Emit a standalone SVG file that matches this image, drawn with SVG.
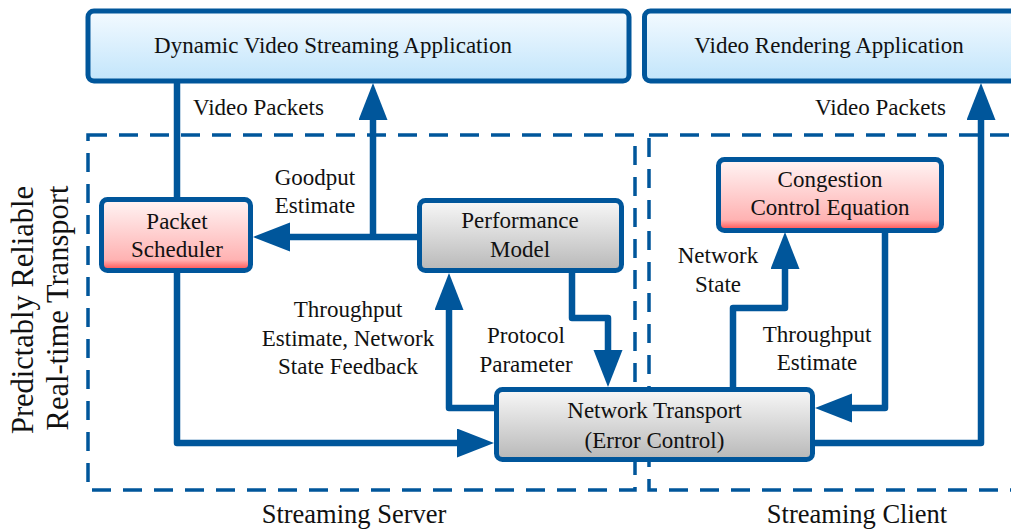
<svg xmlns="http://www.w3.org/2000/svg" width="1011" height="530" viewBox="0 0 1011 530">
  <style>
    .box { stroke: #00569b; stroke-width: 5; }
    .app { fill: url(#gBlue); }
    .hot { fill: url(#gRed); }
    .core { fill: url(#gGray); }
    .region { fill: none; stroke: #00569b; stroke-width: 3.5; stroke-dasharray: 19 12; }
    .wire { fill: none; stroke: #00569b; stroke-width: 6.5; stroke-linejoin: round; }
    .arrow { marker-end: url(#head); }
    text { font-family: "Liberation Serif", "Times New Roman", serif; font-size: 23px; fill: #111; }
    .mid { text-anchor: middle; }
    .big { font-size: 26.5px; }
    .side { font-size: 30.5px; }
  </style>
  <defs>
    <linearGradient id="gBlue" x1="0" y1="0" x2="0" y2="1">
      <stop offset="0" stop-color="#f3faff"/>
      <stop offset="1" stop-color="#c2e5fb"/>
    </linearGradient>
    <linearGradient id="gRed" x1="0" y1="0" x2="0" y2="1">
      <stop offset="0" stop-color="#fff5f5"/>
      <stop offset="0.85" stop-color="#ffb2b2"/>
      <stop offset="1" stop-color="#ff4848"/>
    </linearGradient>
    <linearGradient id="gGray" x1="0" y1="0" x2="0" y2="1">
      <stop offset="0" stop-color="#f8f8f8"/>
      <stop offset="1" stop-color="#b8b8b8"/>
    </linearGradient>
    <marker id="head" markerUnits="userSpaceOnUse" markerWidth="38" markerHeight="30" refX="10" refY="14.5" orient="auto">
      <path d="M0,0 L37,14.5 L0,29 Z" fill="#00569b"/>
    </marker>
  </defs>

  <!-- server / client regions -->
  <g id="regions">
    <rect class="region" x="88" y="135" width="547" height="355"/>
    <rect class="region" x="649" y="135" width="400" height="355"/>
    <text class="big mid" x="354" y="523">Streaming Server</text>
    <text class="big mid" x="857" y="523">Streaming Client</text>
    <text class="side mid" x="33" y="310" transform="rotate(-90 33 310)">Predictably Reliable</text>
    <text class="side mid" x="68" y="308" transform="rotate(-90 68 308)">Real-time Transport</text>
  </g>

  <!-- connectors -->
  <g id="connectors">
    <path class="wire" d="M177,81 V200"/>
    <path class="wire arrow" d="M420,237 H280"/>
    <path class="wire arrow" d="M373,237 V110"/>
    <path class="wire arrow" d="M177,270 V443 H467"/>
    <path class="wire arrow" d="M497,408 H449 V300"/>
    <path class="wire arrow" d="M572,270 V318 H608 V360"/>
    <path class="wire arrow" d="M733,390 V308 H785 V259"/>
    <path class="wire arrow" d="M885,230 V408 H842"/>
    <path class="wire arrow" d="M812,443 H981 V110"/>
    <text x="193" y="115">Video Packets</text>
    <text x="815" y="115">Video Packets</text>
    <text class="mid" x="315" y="185">Goodput</text>
    <text class="mid" x="315" y="213">Estimate</text>
    <text class="mid" x="348" y="317">Throughput</text>
    <text class="mid" x="348" y="346">Estimate, Network</text>
    <text class="mid" x="348" y="374">State Feedback</text>
    <text class="mid" x="526" y="343">Protocol</text>
    <text class="mid" x="526" y="372">Parameter</text>
    <text class="mid" x="718" y="263">Network</text>
    <text class="mid" x="718" y="292">State</text>
    <text class="mid" x="817" y="342">Throughput</text>
    <text class="mid" x="817" y="370">Estimate</text>
  </g>

  <g id="streaming-app">
    <rect class="box app" x="88" y="11" width="541" height="70" rx="6"/>
    <text class="mid" x="333" y="53">Dynamic Video Streaming Application</text>
  </g>

  <g id="rendering-app">
    <rect class="box app" x="644.5" y="11" width="380" height="70" rx="6"/>
    <text class="mid" x="829" y="53">Video Rendering Application</text>
  </g>

  <g id="packet-scheduler">
    <rect class="box hot" x="101.5" y="199.5" width="149" height="71" rx="6"/>
    <text class="mid" x="177" y="229">Packet</text>
    <text class="mid" x="177" y="257">Scheduler</text>
  </g>

  <g id="performance-model">
    <rect class="box core" x="419.5" y="200.5" width="202" height="70" rx="6"/>
    <text class="mid" x="520" y="228">Performance</text>
    <text class="mid" x="520" y="257">Model</text>
  </g>

  <g id="congestion-control">
    <rect class="box hot" x="718.5" y="159.5" width="223" height="71" rx="6"/>
    <text class="mid" x="830" y="187">Congestion</text>
    <text class="mid" x="830" y="215">Control Equation</text>
  </g>

  <g id="network-transport">
    <rect class="box core" x="496.5" y="389.5" width="316" height="70" rx="6"/>
    <text class="mid" x="654.5" y="418">Network Transport</text>
    <text class="mid" x="654.5" y="448">(Error Control)</text>
  </g>
</svg>
